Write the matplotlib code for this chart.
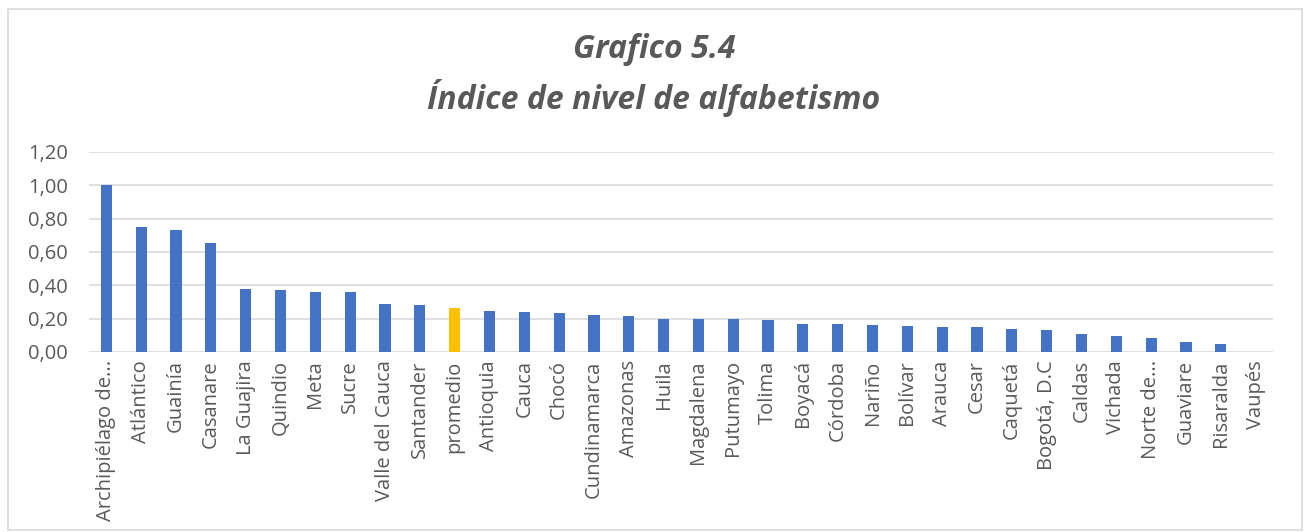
import numpy as np
import matplotlib
matplotlib.use("Agg")
import matplotlib.pyplot as plt
from matplotlib.patches import Rectangle

# Datos: índice de nivel de alfabetismo por departamento
departamentos = ["Archipiélago de...", "Atlántico", "Guainía", "Casanare", "La Guajira",
                 "Quindio", "Meta", "Sucre", "Valle del Cauca", "Santander",
                 "promedio", "Antioquia", "Cauca", "Chocó", "Cundinamarca",
                 "Amazonas", "Huila", "Magdalena", "Putumayo", "Tolima",
                 "Boyacá", "Córdoba", "Nariño", "Bolívar", "Arauca",
                 "Cesar", "Caquetá", "Bogotá, D.C", "Caldas", "Vichada",
                 "Norte de...", "Guaviare", "Risaralda", "Vaupés"]
indice = [1.00, 0.75, 0.73, 0.656, 0.378,
          0.371, 0.36, 0.36, 0.288, 0.284,
          0.264, 0.245, 0.238, 0.233, 0.225,
          0.217, 0.201, 0.201, 0.201, 0.193,
          0.167, 0.167, 0.163, 0.159, 0.151,
          0.149, 0.139, 0.131, 0.109, 0.097,
          0.083, 0.058, 0.046, 0.0]
yticks = [0.0, 0.2, 0.4, 0.6, 0.8, 1.0, 1.2]

plt.rcParams['font.family'] = ['Open Sans', 'DejaVu Sans']
texto = '#595959'

fig = plt.figure(figsize=(13.08, 5.32), dpi=100)
ax = fig.add_axes([89/1308, 1 - 352/532, (1273-89)/1308, 200/532])

colores = ['#FFC000' if d == 'promedio' else '#4472C4' for d in departamentos]
x = np.arange(len(departamentos))
ax.bar(x, indice, width=0.32, color=colores, zorder=3)

ax.set_xlim(-0.5, len(departamentos) - 0.5)
ax.set_ylim(0, 1.2)
ax.set_yticks(yticks)
ax.set_yticklabels([f"{v:.2f}".replace('.', ',') for v in yticks], fontsize=14.5, color=texto)
ax.set_xticks(x)
ax.set_xticklabels(departamentos, rotation=90, fontsize=14.5, color=texto)
ax.tick_params(axis='both', length=0, pad=6)
ax.tick_params(axis='y', pad=15)
ax.grid(axis='y', color='#d9d9d9', linewidth=1.2, zorder=0)
for s in ax.spines.values():
    s.set_visible(False)

fig.text(0.5, 1 - 50/532, "Grafico 5.4", ha='center', va='center',
         fontsize=23, fontweight='bold', fontstyle='italic', color=texto)
fig.text(0.5, 1 - 98/532, "Índice de nivel de alfabetismo", ha='center', va='center',
         fontsize=23, fontweight='bold', fontstyle='italic', color=texto)

# Marco del gráfico
fig.patches.append(Rectangle((8/1308, 2/532), 1294/1308, 521/532, transform=fig.transFigure,
                             fill=False, edgecolor='#d9d9d9', linewidth=1.2))

fig.savefig('out.png', dpi=100)
